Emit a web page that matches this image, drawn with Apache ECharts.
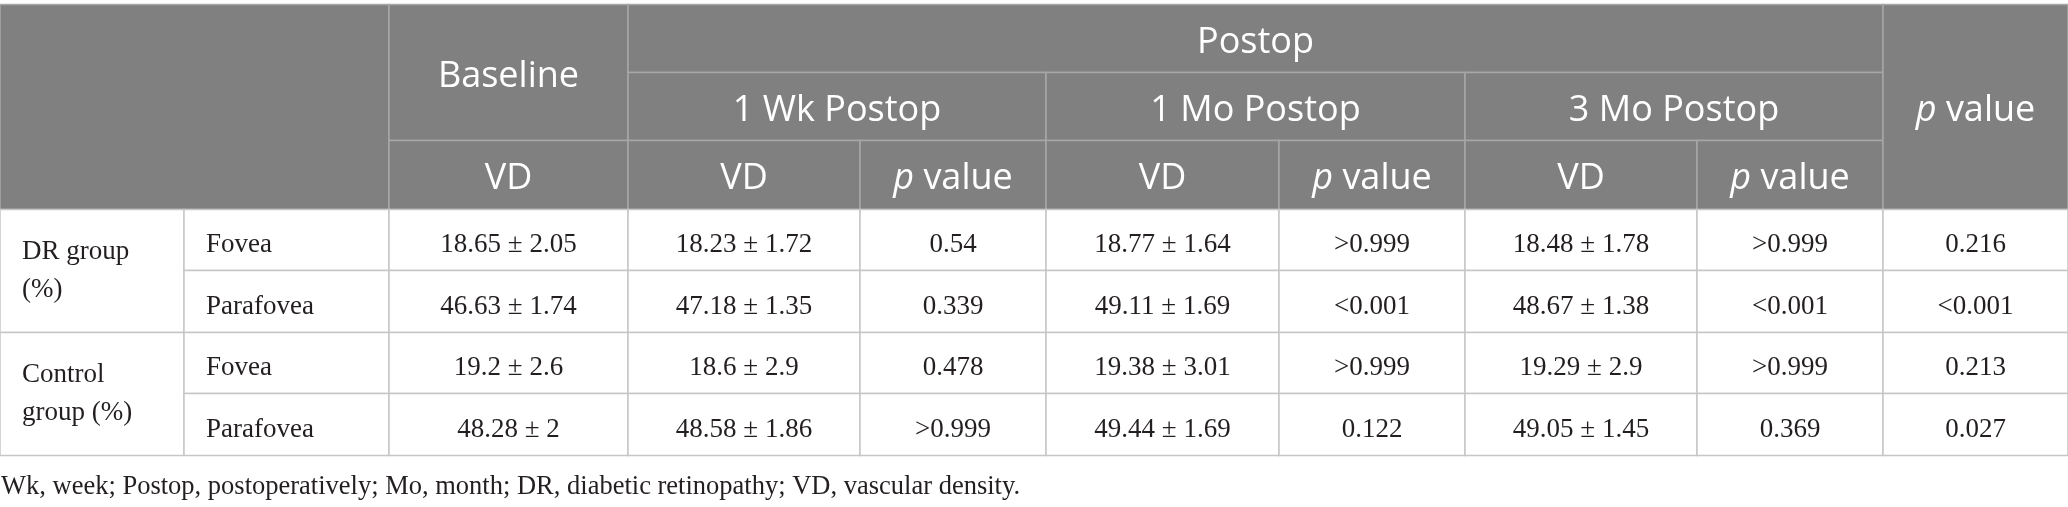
<!DOCTYPE html>
<html>
<head>
<meta charset="utf-8">
<script src="https://cdn.jsdelivr.net/npm/echarts@6/dist/echarts.min.js"></script>
<style>
  html, body { margin: 0; padding: 0; background: #fff; }
  #main { width: 2068px; height: 507px; }
</style>
</head>
<body>
<div id="main"></div>
<script>
// table data
var groups = ['DR group\n(%)', 'Control\ngroup (%)'];
var regions = ['Fovea', 'Parafovea', 'Fovea', 'Parafovea'];
var periods = ['1 Wk Postop', '1 Mo Postop', '3 Mo Postop'];
var baselineVD = ['18.65 ± 2.05', '46.63 ± 1.74', '19.2 ± 2.6', '48.28 ± 2'];
var wk1VD = ['18.23 ± 1.72', '47.18 ± 1.35', '18.6 ± 2.9', '48.58 ± 1.86'];
var wk1P = ['0.54', '0.339', '0.478', '>0.999'];
var mo1VD = ['18.77 ± 1.64', '49.11 ± 1.69', '19.38 ± 3.01', '49.44 ± 1.69'];
var mo1P = ['>0.999', '<0.001', '>0.999', '0.122'];
var mo3VD = ['18.48 ± 1.78', '48.67 ± 1.38', '19.29 ± 2.9', '49.05 ± 1.45'];
var mo3P = ['>0.999', '<0.001', '>0.999', '0.369'];
var overallP = ['0.216', '<0.001', '0.213', '0.027'];
var footnote = 'Wk, week; Postop, postoperatively; Mo, month; DR, diabetic retinopathy; VD, vascular density.';

// layout (axis units = px)
var colEdges = [0, 184, 389, 628, 860, 1046, 1279, 1465, 1697, 1883, 2068];
var rowEdges = [4.5, 72.5, 140.5, 209.5, 270.5, 332.5, 393.5, 455.5];

var headBg = '#7f807f';
var headLine = '#a6a7a6';
var bodyLine = '#c6c6c6';
var sansFont = '"Open Sans", "Noto Sans", sans-serif';
var serifFont = '"Liberation Serif", "DejaVu Serif", serif';

// build the cell list
var cells = [];
function addCell(c0, c1, r0, r1, text, kind, align) {
    cells.push({ c0: c0, c1: c1, r0: r0, r1: r1, text: text, kind: kind, align: align || 'center' });
}

// header
addCell(0, 2, 0, 3, '', 'head');
addCell(2, 3, 0, 2, 'Baseline', 'head');
addCell(2, 3, 2, 3, 'VD', 'head');
addCell(3, 9, 0, 1, 'Postop', 'head');
periods.forEach(function (p, i) {
    addCell(3 + i * 2, 5 + i * 2, 1, 2, p, 'head');
    addCell(3 + i * 2, 4 + i * 2, 2, 3, 'VD', 'head');
    addCell(4 + i * 2, 5 + i * 2, 2, 3, '{i|p} value', 'head');
});
addCell(9, 10, 0, 3, '{i|p} value', 'head');

// body
groups.forEach(function (g, i) {
    addCell(0, 1, 3 + i * 2, 5 + i * 2, g, 'group', 'left');
});
var bodyCols = [baselineVD, wk1VD, wk1P, mo1VD, mo1P, mo3VD, mo3P, overallP];
regions.forEach(function (r, i) {
    addCell(1, 2, 3 + i, 4 + i, r, 'body', 'left');
    bodyCols.forEach(function (col, j) {
        addCell(2 + j, 3 + j, 3 + i, 4 + i, col[i], 'body');
    });
});

var cellData = cells.map(function (c) {
    return [colEdges[c.c0], rowEdges[c.r0], colEdges[c.c1], rowEdges[c.r1]];
});

function renderCell(params, api) {
    var cell = cells[params.dataIndex];
    var p0 = api.coord([api.value(0), api.value(1)]);
    var p1 = api.coord([api.value(2), api.value(3)]);
    var isHead = cell.kind === 'head';
    var font = isHead ? sansFont : serifFont;
    var size = isHead ? 36 : 27;
    var color = isHead ? '#ffffff' : '#231f20';
    var tx = cell.align === 'left' ? p0[0] + 22 : (p0[0] + p1[0]) / 2;
    // small baseline nudges per cell kind
    var dy = { head: 4, body: 5, group: 0 }[cell.kind];
    return {
        type: 'group',
        children: [
            {
                type: 'rect',
                shape: { x: p0[0], y: p0[1], width: p1[0] - p0[0], height: p1[1] - p0[1] },
                style: { fill: isHead ? headBg : '#ffffff', stroke: isHead ? headLine : bodyLine, lineWidth: 1.5 }
            },
            {
                type: 'text',
                style: {
                    text: cell.text,
                    x: tx,
                    y: (p0[1] + p1[1]) / 2 + dy,
                    align: cell.align,
                    verticalAlign: 'middle',
                    fontFamily: font,
                    fontSize: size,
                    lineHeight: cell.kind === 'group' ? 38 : size + 4,
                    fill: color,
                    rich: {
                        i: { fontFamily: font, fontSize: size, fontStyle: 'italic', fill: color }
                    }
                }
            }
        ]
    };
}

var myChart = echarts.init(document.getElementById('main'));
var option = {
    animation: false,
    title: {
        text: footnote,
        left: -4,
        top: 469,
        textStyle: { fontFamily: serifFont, fontSize: 26.5, fontWeight: 'normal', color: '#231f20' }
    },
    grid: { left: 0, right: 0, top: 0, bottom: 0 },
    xAxis: { type: 'value', min: 0, max: 2068, show: false },
    yAxis: { type: 'value', min: 0, max: 507, inverse: true, show: false },
    series: [
        {
            type: 'custom',
            renderItem: renderCell,
            data: cellData,
            clip: false
        }
    ]
};
myChart.setOption(option);
</script>
</body>
</html>
